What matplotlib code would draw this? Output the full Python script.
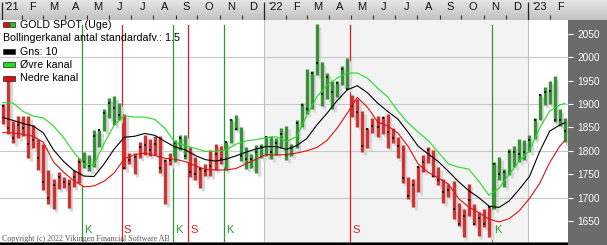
import numpy as np
import pandas as pd
import matplotlib
matplotlib.use('Agg')
import matplotlib.pyplot as plt
import matplotlib.dates as mdates
from matplotlib.patches import Rectangle

plt.rcParams['font.family'] = ['Liberation Sans', 'DejaVu Sans']

# weekly bars, one per friday from 2021-01-01
first_week = '2021-01-01'
highs = [1900, 1959, 1864, 1875, 1875, 1875, 1855, 1825, 1815, 1760,
         1740, 1755, 1745, 1740, 1758, 1785, 1798, 1790, 1845, 1845,
         1890, 1913, 1916, 1903, 1878, 1795, 1795, 1818, 1834, 1825,
         1832, 1832, 1782, 1795, 1823, 1834, 1834, 1809, 1787, 1765,
         1771, 1801, 1814, 1810, 1818, 1868, 1877, 1850, 1808, 1793,
         1813, 1815, 1831,
         1831, 1828, 1848, 1853, 1815, 1865, 1902, 1974, 1970, 2070,
         1990, 1966, 1950, 1948, 1982, 1998, 1920, 1910, 1885, 1849,
         1870, 1874, 1875, 1879, 1848, 1830, 1813, 1745, 1740, 1767,
         1792, 1808, 1802, 1765, 1740, 1729, 1735, 1688, 1675, 1730,
         1686, 1669, 1675, 1682, 1775, 1786, 1762, 1804, 1810, 1825,
         1823, 1833,
         1870, 1922, 1937, 1949, 1959, 1890, 1870]
lows = [1858, 1836, 1816, 1828, 1831, 1785, 1807, 1760, 1717, 1687,
        1676, 1718, 1721, 1677, 1722, 1731, 1764, 1756, 1766, 1808,
        1842, 1869, 1855, 1866, 1761, 1771, 1750, 1785, 1791, 1789,
        1790, 1753, 1687, 1770, 1775, 1802, 1782, 1745, 1737, 1721,
        1746, 1746, 1760, 1772, 1758, 1817, 1845, 1778, 1762, 1763,
        1753, 1785, 1789,
        1782, 1790, 1805, 1780, 1788, 1806, 1850, 1878, 1890, 1962,
        1895, 1910, 1890, 1915, 1940, 1931, 1872, 1850, 1797, 1807,
        1839, 1829, 1836, 1805, 1816, 1784, 1732, 1697, 1681, 1711,
        1754, 1773, 1745, 1727, 1688, 1702, 1654, 1639, 1615, 1660,
        1642, 1618, 1638, 1616, 1676, 1738, 1722, 1748, 1765, 1775,
        1780, 1797,
        1825, 1866, 1897, 1900, 1861, 1852, 1819]
closes = [1896, 1849, 1828, 1856, 1848, 1814, 1824, 1784, 1734, 1700,
          1727, 1745, 1733, 1729, 1744, 1777, 1777, 1768, 1831, 1844,
          1881, 1903, 1891, 1877, 1764, 1781, 1787, 1808, 1812, 1802,
          1814, 1763, 1779, 1781, 1817, 1827, 1788, 1754, 1750, 1761,
          1757, 1768, 1793, 1783, 1818, 1865, 1846, 1788, 1783, 1783,
          1798, 1809, 1829,
          1797, 1817, 1835, 1791, 1807, 1859, 1898, 1889, 1966, 1988,
          1921, 1958, 1925, 1945, 1974, 1931, 1896, 1883, 1811, 1846,
          1853, 1850, 1871, 1840, 1827, 1811, 1742, 1703, 1727, 1766,
          1775, 1802, 1747, 1737, 1712, 1716, 1675, 1643, 1661, 1695,
          1644, 1657, 1644, 1681, 1771, 1751, 1755, 1797, 1797, 1793,
          1798, 1824,
          1865, 1920, 1926, 1928, 1865, 1865, 1842]

# bollinger lines read every second week (plus the last week)
band_mid = [1871, 1865, 1858, 1853, 1838, 1802, 1777, 1758, 1746, 1745,
            1772, 1804, 1829, 1831, 1837, 1833, 1820, 1808, 1802, 1790,
            1781, 1778, 1782, 1789, 1797, 1804, 1809, 1809, 1803, 1811,
            1826, 1855, 1880, 1907, 1930, 1939, 1924, 1902, 1884, 1868,
            1840, 1810, 1793, 1777, 1756, 1734, 1715, 1700, 1682, 1679,
            1693, 1718, 1745, 1798, 1842, 1855, 1860]
band_up = [1903, 1902, 1884, 1874, 1870, 1853, 1828, 1797, 1772, 1770,
           1816, 1855, 1875, 1872, 1872, 1867, 1848, 1818, 1811, 1805,
           1799, 1799, 1801, 1814, 1821, 1824, 1828, 1830, 1820, 1830,
           1875, 1915, 1940, 1955, 1966, 1966, 1955, 1934, 1915, 1885,
           1860, 1840, 1822, 1797, 1772, 1765, 1761, 1735, 1705, 1720,
           1750, 1778, 1800, 1848, 1885, 1898, 1901]
band_low = [1839, 1838, 1835, 1831, 1818, 1776, 1754, 1736, 1723, 1725,
            1735, 1753, 1783, 1792, 1795, 1790, 1784, 1782, 1777, 1768,
            1760, 1759, 1759, 1762, 1772, 1782, 1792, 1791, 1792, 1795,
            1800, 1807, 1822, 1848, 1880, 1914, 1893, 1862, 1853, 1838,
            1810, 1772, 1754, 1742, 1729, 1698, 1680, 1668, 1654, 1648,
            1655, 1672, 1698, 1730, 1775, 1810, 1822]

# buy (K) / sell (S) signals
signal_dates = ['2021-04-24', '2021-06-18', '2021-08-28', '2021-09-18',
                '2021-11-07', '2022-04-30', '2022-11-12']
signal_kind = ['K', 'S', 'K', 'S', 'K', 'S', 'K']

price_ticks = [1650, 1700, 1750, 1800, 1850, 1900, 1950, 2000, 2050]
grid_levels = [1700, 1800, 1900, 2000]
month_letters = ['J', 'F', 'M', 'A', 'M', 'J', 'J', 'A', 'S', 'O', 'N', 'D']

legend_items = [('GOLD SPOT (Uge)', 'pair'),
                ('Bollingerkanal antal standardafv.: 1.5', None),
                ('Gns: 10', '#000000'),
                ('\u00d8vre kanal', '#22dd22'),
                ('Nedre kanal', '#dd1111')]

GREEN = '#3a8f3a'
RED = '#cc3333'
W, H = 607, 245
px_day = 365 / 264.0

fig = plt.figure(figsize=(W / 100, H / 100), dpi=100)
fig.patch.set_facecolor('#6b6b6b')

ax = fig.add_axes([0, 3 / H, 568 / W, 222 / H])
d0 = mdates.date2num(pd.Timestamp('2021-01-01'))
ax.set_xlim(d0, d0 + 568 * px_day)
ylo, yhi = 1605.2, 2079.3
ax.set_ylim(ylo, yhi)
ax.set_facecolor('white')

ax.axvspan(mdates.date2num(pd.Timestamp('2022-01-01')),
           mdates.date2num(pd.Timestamp('2023-01-01')),
           color='#f3f3f3', zorder=0, lw=0)
for v in grid_levels:
    ax.axhline(v, color='#c8c8c8', lw=0.8, zorder=1)
for y in ['2022-01-01', '2023-01-01']:
    ax.axvline(mdates.date2num(pd.Timestamp(y)), color='#c0c0c0', lw=0.8, zorder=1)

weeks = pd.date_range(first_week, periods=len(highs), freq='7D')
xs = mdates.date2num(weeks) + 4
hi = np.array(highs, float)
lo = np.array(lows, float)
cl = np.array(closes, float)

# colour each bar by the last signal before it
sig_x = mdates.date2num(pd.to_datetime(signal_dates))
cols = []
for x in xs:
    state = 'S'
    for sx, k in zip(sig_x, signal_kind):
        if x >= sx:
            state = k
    cols.append(GREEN if state == 'K' else RED)

# signal lines
for sx, k in zip(sig_x, signal_kind):
    c = '#2e9a2e' if k == 'K' else '#d42020'
    ax.axvline(sx, ymin=0, ymax=(2068 - ylo) / (yhi - ylo), color=c, lw=0.9, zorder=2)
    ax.text(sx + 2 * px_day, 0.055, k, color=c, fontsize=8,
            transform=ax.get_xaxis_transform(), va='center', ha='left')

# shadows then bars
shift = 3 / (222 / (yhi - ylo))
ax.vlines(xs + 2.6 * px_day, lo - shift, hi - shift, color='#d8d8d8', lw=2.4, zorder=3)
ax.vlines(xs, lo, hi, colors=cols, lw=2.4, zorder=4)
ax.scatter(xs, cl, s=1.0, color='#1a1a1a', marker='s', lw=0, zorder=5)

band_x = np.concatenate([xs[::2], xs[-1:]])
ax.plot(band_x, band_up, color='#22dd22', lw=0.8, zorder=6)
ax.plot(band_x, band_mid, color='black', lw=0.8, zorder=6)
ax.plot(band_x, band_low, color='#dd1111', lw=0.8, zorder=6)

ax.set_xticks([])
ax.yaxis.tick_right()
ax.set_yticks(price_ticks)
ax.tick_params(axis='y', colors='white', labelcolor='white', length=3.5,
               width=0.8, pad=3, labelsize=7.3)
for s in ax.spines.values():
    s.set_visible(False)

# top month strip
sax = fig.add_axes([0, 1 - 20 / H, 1, 20 / H])
sax.set_xlim(d0, d0 + W * px_day)
sax.set_ylim(20, 0)
grad = np.linspace(0, 1, 50).reshape(-1, 1)
sax.imshow(grad, cmap=matplotlib.colors.LinearSegmentedColormap.from_list(
    'g', ['#e6e6e6', '#c2c2c2']), aspect='auto',
    extent=[d0, d0 + W * px_day, 20, 0], zorder=0)
months = pd.date_range('2021-01-01', '2023-02-01', freq='MS')
for m in months:
    mx = mdates.date2num(m)
    mid = mx + m.days_in_month / 2
    if m.month == 1:
        lab = "'" + str(m.year)[2:]
        if mx <= d0:
            mx = d0 + 2 * px_day
            mid = d0 + 12 * px_day
        sax.vlines(mx, 2, 20, color='#222222', lw=0.9)
    else:
        lab = month_letters[m.month - 1]
        sax.vlines(mx, 15, 19, color='#333333', lw=0.8)
    sax.text(mid, 7.5, lab, fontsize=8, color='#111111', ha='center', va='center')
sax.axis('off')

# legend in the upper left corner
for i, (txt, kind) in enumerate(legend_items):
    yc = 25 + 13.3 * i
    if kind is None:
        fig.text(3 / W, 1 - yc / H, txt, fontsize=7.7, va='center', ha='left')
        continue
    if kind == 'pair':
        fig.add_artist(Rectangle((3 / W, 1 - (yc + 2.5) / H), 5.5 / W, 5 / H,
                                 transform=fig.transFigure, fc='#dd1111', ec='#222', lw=0.5, zorder=10))
        fig.add_artist(Rectangle((9.5 / W, 1 - (yc + 2.5) / H), 5.5 / W, 5 / H,
                                 transform=fig.transFigure, fc='#22cc22', ec='#222', lw=0.5, zorder=10))
    else:
        fig.add_artist(Rectangle((3 / W, 1 - (yc + 2.5) / H), 12 / W, 5 / H,
                                 transform=fig.transFigure, fc=kind, ec='#222', lw=0.5, zorder=10))
    fig.text(20 / W, 1 - yc / H, txt, fontsize=7.7, va='center', ha='left')

fig.text(2 / W, 1 - 239 / H, 'Copyright (c) 2022 Vikingen Financial Software AB',
         fontfamily='Liberation Serif', fontsize=5.8, color='#555555', va='center')
fig.add_artist(Rectangle((0, 0), 568 / W, 2.5 / H, transform=fig.transFigure,
                         fc='black', lw=0))

fig.savefig('out.png', dpi=100, facecolor=fig.get_facecolor())
